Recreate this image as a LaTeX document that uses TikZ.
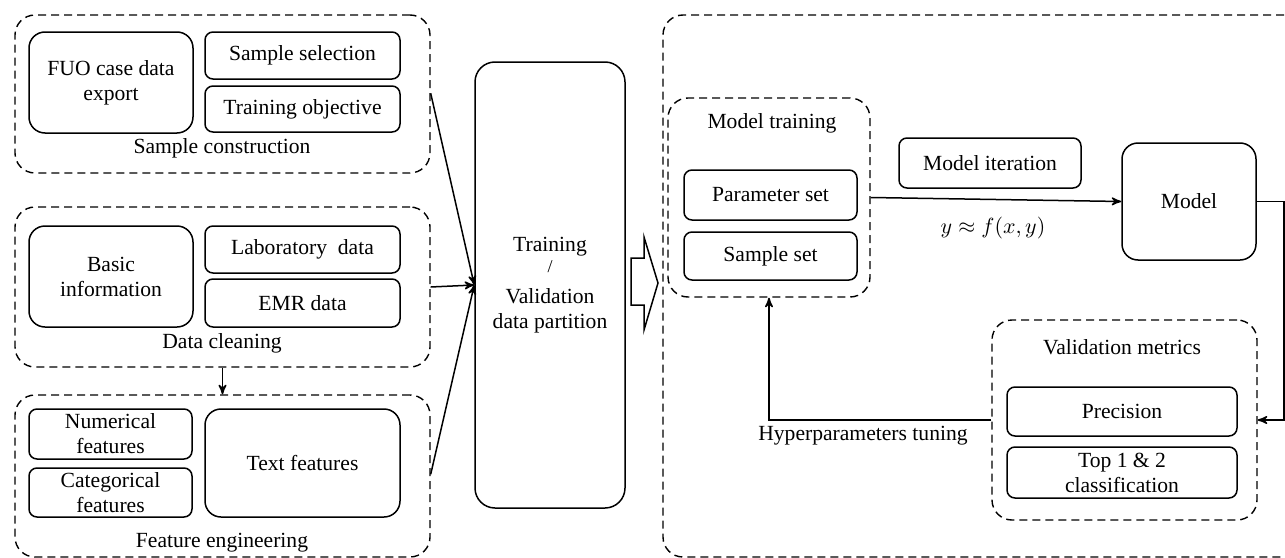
\documentclass[tikz,border=0pt]{standalone}
\usepackage{fontspec}
\setmainfont{Liberation Serif}
\usetikzlibrary{arrows,shapes,positioning}
\tikzset{
  box/.style = {draw, rounded corners=4pt, line width=0.75pt, align=center,
    inner sep=0pt, font=\fontsize{10.8}{12.5}\selectfont},% plain box
  box_l/.style = {box, rounded corners=8pt},% larger box
  grp/.style = {draw, rounded corners=10pt, line width=0.7pt,
    dash pattern=on 4pt off 2.5pt, inner sep=0pt},% dashed group
  lbl/.style = {inner sep=0pt, align=center,
    font=\fontsize{10.8}{12.5}\selectfont}% group caption
}
\begin{document}
\begin{tikzpicture}[->,>=stealth',x=0.5pt,y=-0.5pt,line width=0.75pt]
\useasboundingbox (0,0) rectangle (1285,557);
\clip (0,0) rectangle (1285,557);
% left: three preparation groups
\node [grp, minimum width=207.5pt, minimum height=79pt] (sc) at (222.5,94) {};
\node [box_l, minimum width=82pt, minimum height=50.5pt] (fuo) at (111,82.5) {FUO case data\\export};
\node [box, minimum width=97.5pt, minimum height=23.5pt] (sel) at (302.5,55.5) {Sample selection};
\node [box, minimum width=97.5pt, minimum height=23pt] (obj) at (302.5,109) {Training objective};
\node [lbl] (sc_l) at (222,148) {Sample construction};

\node [grp, minimum width=207.5pt, minimum height=80pt] (dc) at (222.5,287) {};
\node [box_l, minimum width=82pt, minimum height=50.5pt] (basic) at (111,276.5) {Basic\\information};
\node [box, minimum width=97.5pt, minimum height=23.5pt] (lab) at (302.5,249.5) {Laboratory\ \ data};
\node [box, minimum width=97.5pt, minimum height=24pt] (emr) at (302.5,303) {EMR data};
\node [lbl] (dc_l) at (222,343) {Data cleaning};

\node [grp, minimum width=207.5pt, minimum height=81pt] (fe) at (222.5,476) {};
\node [box, minimum width=81.5pt, minimum height=25pt] (num) at (110.5,434) {Numerical\\features};
\node [box, minimum width=81.5pt, minimum height=24.5pt] (cat) at (110.5,492.5) {Categorical\\features};
\node [box_l, minimum width=97.5pt, minimum height=54pt] (txt) at (302.5,463) {Text features};
\node [lbl] (fe_l) at (222,543) {Feature engineering};

\draw (dc.south) -- (fe.north);

% partition
\node [box, rounded corners=10pt, minimum width=75pt, minimum height=223pt] (part) at (550,285)
  {Training\\[-2pt]{\small /}\\[3pt]Validation\\data partition};
\draw ([yshift=-39.5pt]sc.north east) -- (part.west);
\draw (dc.east) -- (part.west);
\draw ([yshift=-40pt]fe.north east) -- (part.west);
\draw [-] (631,258) -- (644,258) -- (644,237) -- (658,283) -- (644,330) -- (644,305) -- (631,305) -- cycle;

% right: training loop
\node [grp, minimum width=333.5pt, minimum height=271pt] (train) at (996.5,286) {};
\node [grp, minimum width=101pt, minimum height=99.5pt] (mt) at (769,197.5) {};
\node [lbl] (mt_l) at (772,123) {Model training};
\node [box, minimum width=86.5pt, minimum height=25pt] (par) at (770.5,195) {Parameter set};
\node [box, minimum width=86.5pt, minimum height=24pt] (sset) at (770.5,256) {Sample set};
\node [box, minimum width=91pt, minimum height=25pt] (iter) at (990,163) {Model iteration};
\node [box_l, minimum width=67pt, minimum height=58.5pt] (model) at (1189,201.5) {Model};

\node [grp, minimum width=132.5pt, minimum height=100pt] (vm) at (1124.5,420) {};
\node [lbl] (vm_l) at (1122,347) {Validation metrics};
\node [box, minimum width=115pt, minimum height=24.5pt] (prec) at (1122,411.5) {Precision};
\node [box, minimum width=115pt, minimum height=25.5pt] (top) at (1122,472.5) {Top 1 \& 2\\classification};

\draw (mt.east) -- (model.west);
\node [lbl] (fxy) at (993,228) {$y \approx f(x,y)$};
\coordinate (c1) at (1284,201.5);
\coordinate (c2) at (1284,420);
\draw (model.east) -- (c1) -- (c2) -- (vm.east);
\draw (vm.west) -| (mt.south);
\node [lbl] (hp) at (863,436) {Hyperparameters tuning};
\end{tikzpicture}
\end{document}
